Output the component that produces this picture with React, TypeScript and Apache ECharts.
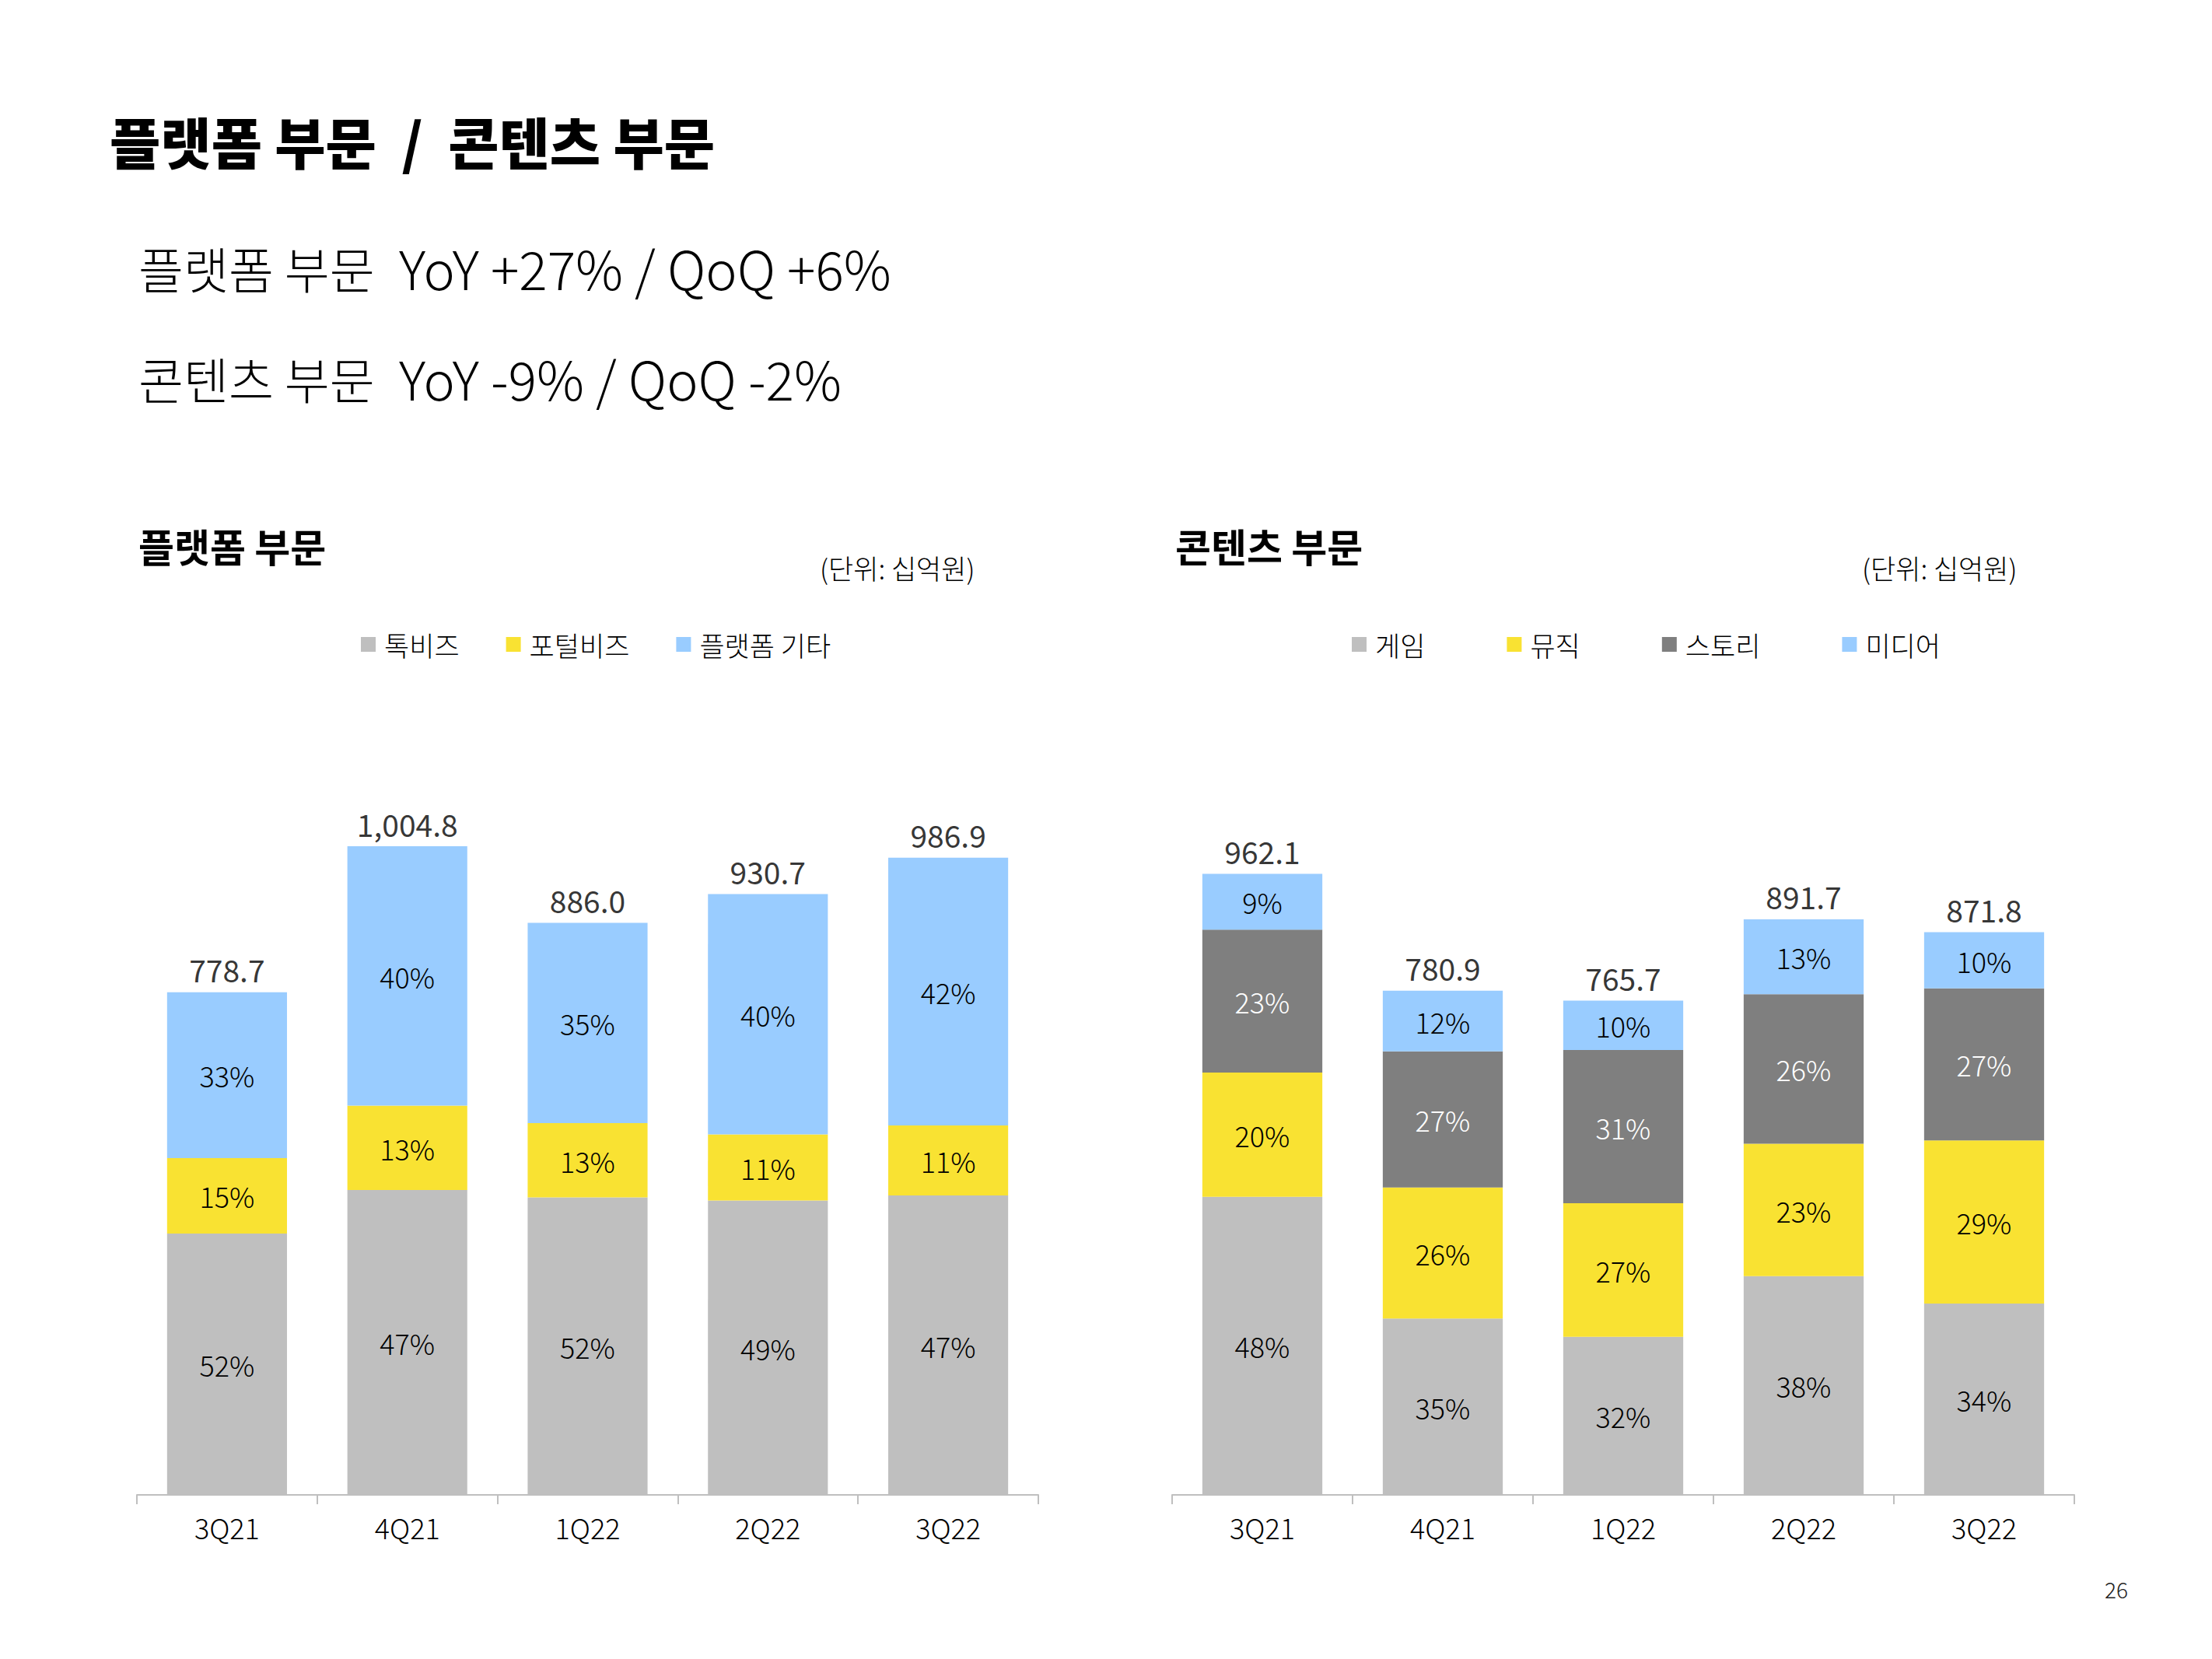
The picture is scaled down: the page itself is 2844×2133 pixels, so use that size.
import React, { useEffect, useRef } from "react";
import * as echarts from "echarts";

const categories = ["3Q21", "4Q21", "1Q22", "2Q22", "3Q22"];

// 플랫폼 부문 (십억원)
const platformTotals = [778.7, 1004.8, 886.0, 930.7, 986.9];
const talkbizValues = [404.9, 472.3, 460.7, 456.0, 463.8];
const portalValues = [116.8, 130.6, 115.2, 102.4, 108.6];
const platformOtherValues = [257.0, 401.9, 310.1, 372.3, 414.5];
const talkbizPct = ["52%", "47%", "52%", "49%", "47%"];
const portalPct = ["15%", "13%", "13%", "11%", "11%"];
const platformOtherPct = ["33%", "40%", "35%", "40%", "42%"];

// 콘텐츠 부문 (십억원)
const contentTotals = [962.1, 780.9, 765.7, 891.7, 871.8];
const gameValues = [461.8, 273.3, 245.0, 338.8, 296.4];
const musicValues = [192.4, 203.0, 206.7, 205.1, 252.8];
const storyValues = [221.3, 210.8, 237.4, 231.8, 235.4];
const mediaValues = [86.6, 93.8, 76.6, 116.0, 87.2];
const gamePct = ["48%", "35%", "32%", "38%", "34%"];
const musicPct = ["20%", "26%", "27%", "23%", "29%"];
const storyPct = ["23%", "27%", "31%", "26%", "27%"];
const mediaPct = ["9%", "12%", "10%", "13%", "10%"];

const FONT = "'Noto Sans CJK KR', 'Noto Sans', sans-serif";
const C_GRAY = "#BFBFBF";
const C_YELLOW = "#F9E232";
const C_BLUE = "#99CCFF";
const C_DARK = "#7F7F7F";

function fmtTotal(v: number) {
  return v.toLocaleString("en-US", { minimumFractionDigits: 1, maximumFractionDigits: 1 });
}

function barSeries(name: string, idx: number, stack: string, data: number[], pct: string[], color: string, labelColor = "#000") {
  return {
    name,
    type: "bar",
    xAxisIndex: idx,
    yAxisIndex: idx,
    stack,
    data,
    barCategoryGap: "33.5%",
    itemStyle: { color },
    label: {
      show: true,
      position: "inside",
      formatter: (p: any) => pct[p.dataIndex],
      fontSize: 36,
      fontWeight: 300,
      fontFamily: FONT,
      color: labelColor,
    },
  };
}

function totalSeries(idx: number, totals: number[]) {
  return {
    type: "scatter",
    xAxisIndex: idx,
    yAxisIndex: idx,
    data: totals,
    symbolSize: 0,
    silent: true,
    label: {
      show: true,
      position: "top",
      distance: 10,
      formatter: (p: any) => fmtTotal(totals[p.dataIndex]),
      fontSize: 39,
      fontFamily: FONT,
      color: "#000",
    },
    z: 5,
  };
}

function xAxis(idx: number) {
  return {
    type: "category",
    gridIndex: idx,
    data: categories,
    axisLine: { lineStyle: { color: "#BFBFBF", width: 2 } },
    axisTick: { show: true, length: 12, lineStyle: { color: "#BFBFBF", width: 2 } },
    axisLabel: { fontSize: 36, fontWeight: 300, fontFamily: FONT, color: "#000", margin: 23 },
  };
}

function yAxis(idx: number) {
  return {
    type: "value",
    gridIndex: idx,
    min: 0,
    max: 1200,
    show: false,
    splitLine: { show: false },
  };
}

function txt(text: string, x: number, y: number, fontSize: number, fontWeight: any = "normal", align = "left", fill = "#000") {
  return {
    type: "text",
    x,
    y,
    silent: true,
    style: {
      text,
      fontSize,
      fontWeight,
      fontFamily: FONT,
      fill,
      align,
      verticalAlign: "middle",
    },
  };
}

export default function App() {
  const ref = useRef<HTMLDivElement>(null);
  useEffect(() => {
    document.body.style.margin = "0";
    const chart = echarts.init(ref.current!, undefined, { renderer: "svg" });
    const legendCommon = {
      icon: "rect",
      itemWidth: 19,
      itemHeight: 19,
      selectedMode: false,
      textStyle: { fontSize: 35, fontWeight: 300, fontFamily: FONT, color: "#000", padding: [0, 0, 0, 6] },
    };
    chart.setOption({
      animation: false,
      backgroundColor: "#fff",
      grid: [
        { left: 176, width: 1159, top: 926, height: 996 },
        { left: 1507, width: 1160, top: 926, height: 996 },
      ],
      xAxis: [xAxis(0), xAxis(1)],
      yAxis: [yAxis(0), yAxis(1)],
      legend: [
        { ...legendCommon, left: 459, top: 806, itemGap: 60, data: ["톡비즈", "포털비즈", "플랫폼 기타"] },
        { ...legendCommon, left: 1733, top: 806, itemGap: 105, data: ["게임", "뮤직", "스토리", "미디어"] },
      ],
      series: [
        barSeries("톡비즈", 0, "p", talkbizValues, talkbizPct, C_GRAY),
        barSeries("포털비즈", 0, "p", portalValues, portalPct, C_YELLOW),
        barSeries("플랫폼 기타", 0, "p", platformOtherValues, platformOtherPct, C_BLUE),
        totalSeries(0, platformTotals),
        barSeries("게임", 1, "c", gameValues, gamePct, C_GRAY),
        barSeries("뮤직", 1, "c", musicValues, musicPct, C_YELLOW),
        barSeries("스토리", 1, "c", storyValues, storyPct, C_DARK, "#fff"),
        barSeries("미디어", 1, "c", mediaValues, mediaPct, C_BLUE),
        totalSeries(1, contentTotals),
      ],
      graphic: [
        txt("플랫폼 부문  /  콘텐츠 부문", 141, 180, 71, 900),
        txt("플랫폼 부문", 178, 343, 63, 300),
        txt("YoY +27% / QoQ +6%", 513, 343, 68, 300),
        txt("콘텐츠 부문", 178, 485, 63, 300),
        txt("YoY -9% / QoQ -2%", 513, 485, 68, 300),
        txt("플랫폼 부문", 178, 701, 50, "bold"),
        txt("콘텐츠 부문", 1511, 701, 50, "bold"),
        txt("(단위: 십억원)", 1054, 729, 35, 300),
        txt("(단위: 십억원)", 2394, 729, 35, 300),
        txt("26", 2736, 2043, 28, 300, "right", "#222"),
      ],
    });
    return () => chart.dispose();
  }, []);
  return <div ref={ref} style={{ width: 2844, height: 2133 }} />;
}
